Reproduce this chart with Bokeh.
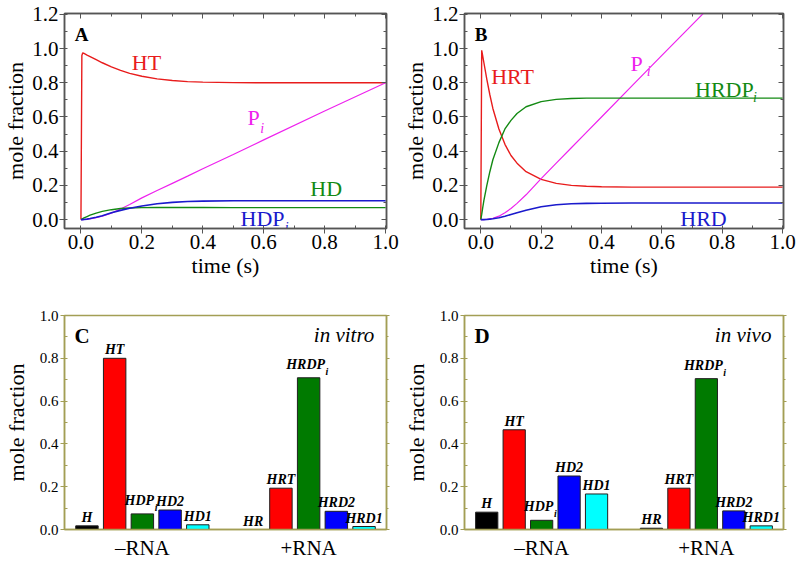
from bokeh.plotting import figure
from bokeh.layouts import column, row
from bokeh.models import (LinearAxis, SingleIntervalTicker, FixedTicker,
                          PrintfTickFormatter, Range1d)
from bokeh.core.properties import value
from bokeh.embed import file_html
from bokeh.resources import INLINE

SERIF = "Liberation Serif"

# ---------------- Panel A data (no RNA) ----------------
t_A = [0.0, 0.003, 0.006, 0.01, 0.02, 0.03, 0.05, 0.07, 0.1, 0.13, 0.16, 0.2,
       0.25, 0.3, 0.35, 0.4, 0.5, 0.6, 0.8, 1.0]
A_HT = [0.0, 0.96, 0.975, 0.972, 0.962, 0.953, 0.935, 0.917, 0.893, 0.872, 0.855,
        0.838, 0.823, 0.813, 0.807, 0.804, 0.801, 0.80, 0.80, 0.80]
A_HD = [0.0, 0.003, 0.006, 0.01, 0.018, 0.026, 0.038, 0.048, 0.058, 0.065, 0.068,
        0.07, 0.071, 0.071, 0.071, 0.071, 0.07, 0.07, 0.07, 0.07]
A_HDPi = [0.0, 0.0, 0.0, 0.001, 0.003, 0.006, 0.014, 0.023, 0.04, 0.054, 0.066,
          0.08, 0.093, 0.101, 0.106, 0.108, 0.11, 0.11, 0.11, 0.11]
A_Pi = [0.0, 0.0, 0.0, 0.001, 0.002, 0.004, 0.011, 0.02, 0.038, 0.062, 0.088,
        0.127, 0.17, 0.212, 0.254, 0.297, 0.381, 0.466, 0.635, 0.80]

# ---------------- Panel B data (+RNA) ----------------
t_B = [0.0, 0.003, 0.006, 0.01, 0.02, 0.03, 0.04, 0.06, 0.08, 0.1, 0.12, 0.15,
       0.2, 0.25, 0.3, 0.35, 0.4, 0.5, 0.6, 0.74, 0.8, 1.0]
B_HRT = [0.0, 0.99, 0.96, 0.92, 0.82, 0.73, 0.65, 0.53, 0.44, 0.375, 0.33, 0.28,
         0.235, 0.212, 0.2, 0.195, 0.192, 0.19, 0.19, 0.19, 0.19, 0.19]
B_HRDPi = [0.0, 0.03, 0.065, 0.11, 0.2, 0.28, 0.35, 0.45, 0.53, 0.58, 0.62, 0.66,
           0.69, 0.703, 0.708, 0.71, 0.71, 0.71, 0.71, 0.71, 0.71, 0.71]
B_Pi = [0.0, 0.0, 0.0, 0.0, 0.002, 0.004, 0.008, 0.02, 0.04, 0.065, 0.095, 0.145,
        0.24, 0.33, 0.42, 0.51, 0.6, 0.78, 0.96, 1.21, 1.32, 1.68]
B_HRD = [0.0, 0.0, 0.0, 0.0, 0.001, 0.003, 0.005, 0.011, 0.02, 0.03, 0.04, 0.055,
         0.075, 0.087, 0.093, 0.095, 0.096, 0.097, 0.097, 0.097, 0.097, 0.097]

# ---------------- Bar panels ----------------
groups = ["\u2013RNA", "+RNA"]
names_minus = ["H", "HT", "HDP", "HD2", "HD1"]
names_plus = ["HR", "HRT", "HRDP", "HRD2", "HRD1"]
subs_minus = ["", "", "i", "", ""]
subs_plus = ["", "", "i", "", ""]
bar_colors = ["#000000", "#ff0000", "#007a00", "#0000ff", "#00ffff"]
vitro_minus = [0.017, 0.80, 0.073, 0.091, 0.022]
vitro_plus = [0.0, 0.193, 0.709, 0.085, 0.014]
vivo_minus = [0.081, 0.466, 0.043, 0.25, 0.166]
vivo_plus = [0.006, 0.193, 0.705, 0.087, 0.017]

RED = "#e81c1c"
MAG = "#ee22ee"
GRN = "#138a13"
BLU = "#1a1acc"
TOPFRAME = "#555555"
OLIVE = "#a39e55"


def mirror_axis(color, tin, tout, min_in, min_out):
    return LinearAxis(ticker=SingleIntervalTicker(interval=0.2, num_minor_ticks=2),
                      major_label_text_font_size="1px", major_label_text_color=None,
                      major_label_standoff=0,
                      axis_line_color=color, axis_line_width=1.5,
                      major_tick_line_color=color, minor_tick_line_color=color,
                      major_tick_in=tin, major_tick_out=tout,
                      minor_tick_in=min_in, minor_tick_out=min_out)


def line_panel(min_left, min_right):
    p = figure(width=400, height=290, x_range=Range1d(-0.054, 1.003),
               y_range=Range1d(-0.052, 1.205), output_backend="svg",
               toolbar_location=None, min_border_left=min_left,
               min_border_right=min_right, min_border_top=13, min_border_bottom=62)
    p.grid.visible = False
    p.outline_line_color = TOPFRAME
    p.outline_line_width = 1.5
    for ax in (p.xaxis[0], p.yaxis[0]):
        ax.ticker = SingleIntervalTicker(interval=0.2, num_minor_ticks=2)
        ax.formatter = PrintfTickFormatter(format="%.1f")
        ax.major_label_text_font = SERIF
        ax.major_label_text_font_size = "21px"
        ax.major_label_text_color = "black"
        ax.axis_label_text_font = SERIF
        ax.axis_label_text_font_size = "22px"
        ax.axis_label_text_font_style = "normal"
        ax.axis_label_text_color = "black"
        ax.axis_line_color = TOPFRAME
        ax.axis_line_width = 1.5
        ax.major_tick_line_color = TOPFRAME
        ax.minor_tick_line_color = TOPFRAME
        ax.major_tick_out = 5
        ax.major_tick_in = 0
        ax.minor_tick_out = 0
        ax.minor_tick_in = 3
        ax.major_label_standoff = 1
        ax.axis_label_standoff = 1
    p.xaxis.axis_label = "time (s)"
    p.yaxis.axis_label = "mole fraction"
    p.add_layout(mirror_axis(TOPFRAME, 5, 0, 3, 0), "above")
    p.add_layout(mirror_axis(TOPFRAME, 5, 0, 3, 0), "right")
    return p


def label(p, x, y, txt, color, size="22px", style="normal", align="center"):
    p.text(x=[x], y=[y], text=[txt], text_font=value(SERIF), text_font_size=size,
           text_font_style=style, text_color=color, text_align=align,
           text_baseline="middle")


# ---- Panel A ----
pA = line_panel(62, 14)
pA.line(t_A, A_HT, line_color=RED, line_width=1.4)
pA.line(t_A, A_Pi, line_color=MAG, line_width=1.2)
pA.line(t_A, A_HD, line_color=GRN, line_width=1.4)
pA.line(t_A, A_HDPi, line_color=BLU, line_width=1.6)
label(pA, -0.02, 1.08, "A", "black", "19px", "bold", "left")
label(pA, 0.215, 0.92, "HT", RED)
label(pA, 0.567, 0.595, "P", MAG)
label(pA, 0.595, 0.535, "i", MAG, "14px", "italic")
label(pA, 0.805, 0.18, "HD", GRN)
label(pA, 0.596, 0.006, "HDP", BLU)
label(pA, 0.675, -0.045, "i", BLU, "14px", "italic")

# ---- Panel B ----
pB = line_panel(60, 17)
pB.line(t_B, B_HRT, line_color=RED, line_width=1.4)
pB.line(t_B, B_Pi, line_color=MAG, line_width=1.2)
pB.line(t_B, B_HRDPi, line_color=GRN, line_width=1.4)
pB.line(t_B, B_HRD, line_color=BLU, line_width=1.6)
label(pB, -0.02, 1.08, "B", "black", "19px", "bold", "left")
label(pB, 0.105, 0.834, "HRT", RED)
label(pB, 0.516, 0.913, "P", MAG)
label(pB, 0.556, 0.865, "i", MAG, "14px", "italic")
label(pB, 0.807, 0.76, "HRDP", GRN)
label(pB, 0.908, 0.715, "i", GRN, "14px", "italic")
label(pB, 0.738, 0.006, "HRD", BLU)

# Times bold italic approximate advance widths (em) for centring subscripts
CW = {"H": 0.778, "R": 0.667, "D": 0.722, "P": 0.611, "T": 0.611, "1": 0.5, "2": 0.5}


def bar_panel(minus_vals, plus_vals, letter, note, min_left, min_right):
    p = figure(width=400, height=272, x_range=Range1d(-0.81, 10.81),
               y_range=Range1d(0, 1.0), output_backend="svg", toolbar_location=None,
               min_border_left=min_left, min_border_right=min_right,
               min_border_top=25, min_border_bottom=31)
    p.grid.visible = False
    p.outline_line_color = OLIVE
    p.outline_line_width = 1.5
    xs = list(range(5)) + [6 + i for i in range(5)]
    vals = minus_vals + plus_vals
    names = names_minus + names_plus
    subs = subs_minus + subs_plus
    cols = bar_colors + bar_colors
    p.vbar(x=xs, top=vals, bottom=0, width=0.81, fill_color=cols,
           line_color="#202020", line_width=1)
    fs = 14
    for x, v, n, s in zip(xs, vals, names, subs):
        if s:
            w = sum(CW.get(c, 0.6) for c in n) * fs
            p.text(x=[x], y=[v], text=[n], text_font=value(SERIF),
                   text_font_size=f"{fs}px", text_font_style="bold italic",
                   text_color="black", text_align="center", text_baseline="bottom",
                   x_offset=-3, y_offset=-6)
            p.text(x=[x], y=[v], text=[s], text_font=value(SERIF),
                   text_font_size="10px", text_font_style="bold italic",
                   text_color="black", text_align="left", text_baseline="bottom",
                   x_offset=-3 + w / 2 + 0.5, y_offset=-1)
        else:
            p.text(x=[x], y=[v], text=[n], text_font=value(SERIF),
                   text_font_size=f"{fs}px", text_font_style="bold italic",
                   text_color="black", text_align="center", text_baseline="bottom",
                   y_offset=-1)
    p.text(x=[-0.45], y=[0.905], text=[letter], text_font=value(SERIF),
           text_font_size="21px", text_font_style="bold", text_color="black",
           text_align="left", text_baseline="middle")
    p.text(x=[10.37], y=[0.91], text=[note], text_font=value(SERIF),
           text_font_size="21px", text_font_style="italic", text_color="black",
           text_align="right", text_baseline="middle")

    xa = p.xaxis[0]
    xa.ticker = FixedTicker(ticks=[2, 8])
    xa.major_label_overrides = {2: groups[0], 8: groups[1]}
    xa.major_label_text_font = SERIF
    xa.major_label_text_font_size = "21px"
    xa.major_label_text_color = "black"
    xa.major_label_standoff = 6
    xa.major_tick_out = 0
    xa.major_tick_in = 0
    xa.minor_tick_out = 0
    xa.minor_tick_in = 0
    xa.axis_line_color = OLIVE
    xa.axis_line_width = 1.5

    ya = p.yaxis[0]
    ya.ticker = SingleIntervalTicker(interval=0.2, num_minor_ticks=2)
    ya.formatter = PrintfTickFormatter(format="%.1f")
    ya.major_label_text_font = SERIF
    ya.major_label_text_font_size = "15px"
    ya.major_label_text_color = "black"
    ya.axis_label = "mole fraction"
    ya.axis_label_text_font = SERIF
    ya.axis_label_text_font_size = "22px"
    ya.axis_label_text_font_style = "normal"
    ya.axis_label_text_color = "black"
    ya.axis_label_standoff = 8
    ya.major_label_standoff = 2
    ya.axis_line_color = OLIVE
    ya.axis_line_width = 1.5
    ya.major_tick_line_color = OLIVE
    ya.minor_tick_line_color = OLIVE
    ya.major_tick_out = 4
    ya.major_tick_in = 0
    ya.minor_tick_out = 0
    ya.minor_tick_in = 3

    p.add_layout(mirror_axis(OLIVE, 0, 3, 0, 2), "right")
    return p


pC = bar_panel(vitro_minus, vitro_plus, "C", "in vitro", 62, 14)
pD = bar_panel(vivo_minus, vivo_plus, "D", "in vivo", 60, 17)

layout = column(row(pA, pB), row(pC, pD))
open("out.html", "w").write(file_html(layout, INLINE))
